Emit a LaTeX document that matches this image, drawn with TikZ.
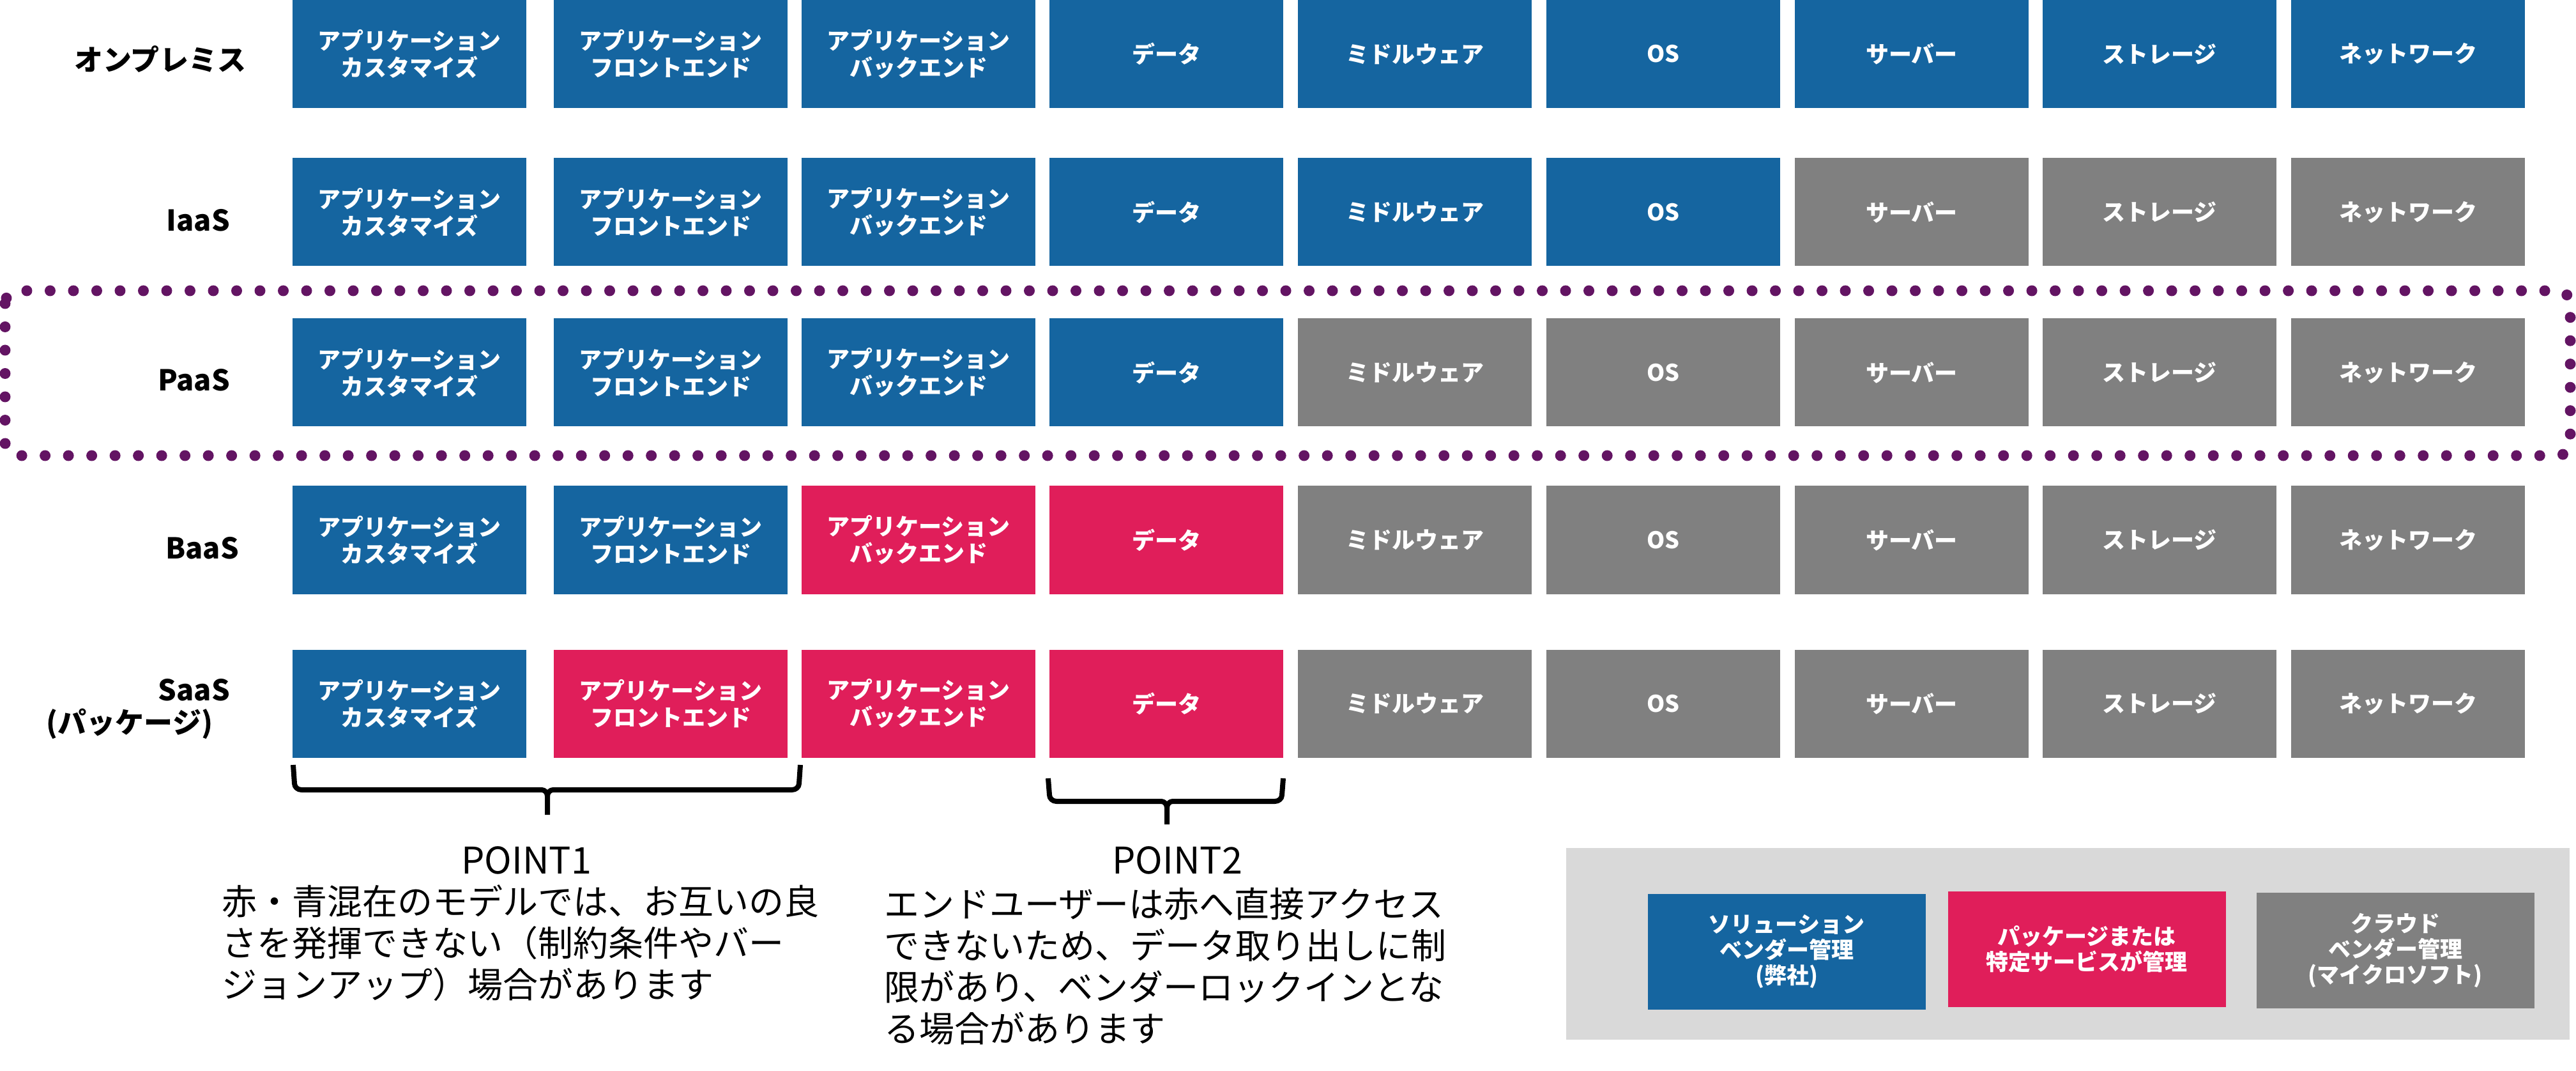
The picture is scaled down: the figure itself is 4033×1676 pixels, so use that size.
\documentclass[tikz,border=0pt]{standalone}
\usepackage{fontspec}
\setmainfont{Noto Sans CJK JP}
\definecolor{cblue}{HTML}{1565A0}
\definecolor{cpink}{HTML}{E01E5A}
\definecolor{cgray}{HTML}{808080}
\definecolor{clegbg}{HTML}{D9D9D9}
\definecolor{cpurple}{HTML}{631463}
\begin{document}
\begin{tikzpicture}[x=0.2pt,y=-0.2pt,
  cell/.style={minimum width=73.2pt,minimum height=33.8pt,inner sep=0pt,text=white,align=center,
    font=\fontsize{7.2}{8.4}\selectfont\bfseries},
  rowlabel/.style={anchor=east,inner sep=0pt,font=\fontsize{9}{11}\selectfont\bfseries},
  ptitle/.style={inner sep=0pt,font=\fontsize{11.5}{13}\selectfont},
  pbody/.style={inner sep=0pt,anchor=north west,align=left,font=\fontsize{11}{13}\selectfont},
  legbox/.style={minimum width=87pt,minimum height=36.2pt,inner sep=0pt,text=white,align=center,
    font=\fontsize{7}{8}\selectfont\bfseries},
  brk/.style={line width=1.6pt,line join=round}]
\useasboundingbox (0,0) rectangle (4033,1676);

% dotted frame around PaaS
\draw[cpurple,line width=3.4pt,line cap=round,dash pattern=on 0pt off 7.3pt,rounded corners=4pt]
  (8,455) rectangle (4024,713);

% grid of cells
\foreach \r/\y/\nb/\np in {1/84.5/9/9, 2/332/6/6, 3/583/4/4, 4/845/2/4, 5/1101/1/4}{
  \foreach \c/\x/\t in {1/641/{アプリケーション\\カスタマイズ},
                        2/1050/{アプリケーション\\フロントエンド},
                        3/1438/{アプリケーション\\バックエンド},
                        4/1826/{データ},
                        5/2215/{ミドルウェア},
                        6/2604/{OS},
                        7/2993/{サーバー},
                        8/3381/{ストレージ},
                        9/3770/{ネットワーク}}{
    \ifnum\c>\np\relax\def\col{cgray}\else\ifnum\c>\nb\relax\def\col{cpink}\else\def\col{cblue}\fi\fi
    \node[cell,fill=\col] (b\r\c) at (\x,\y) {\t};
  }
}

% row labels
\node[rowlabel] (l1) at (386,93) {オンプレミス};
\node[rowlabel] (l2) at (361,345) {IaaS};
\node[rowlabel] (l3) at (361,595) {PaaS};
\node[rowlabel] (l4) at (375,858) {BaaS};
\node[rowlabel] (l5) at (361,1080) {SaaS};
\node[rowlabel] (l6) at (334,1133) {(パッケージ)};

% brackets
\draw[brk] (459,1197) -- (461,1226) to[out=-90,in=180] (472,1236) -- (848,1236)
  to[out=0,in=90] (857,1246) -- (857,1275);
\draw[brk] (1253,1197) -- (1251,1226) to[out=-90,in=0] (1240,1236) -- (866,1236)
  to[out=180,in=90] (857,1246);
\draw[brk] (1641,1218) -- (1643,1244) to[out=-90,in=180] (1654,1254) -- (1818,1254)
  to[out=0,in=90] (1827,1264) -- (1827,1290);
\draw[brk] (2009,1218) -- (2007,1244) to[out=-90,in=0] (1996,1254) -- (1836,1254)
  to[out=180,in=90] (1827,1264);

% POINT texts
\node[ptitle] (p1t) at (824,1346) {POINT1};
\node[pbody] (p1b) at (346,1384) {赤・青混在のモデルでは、お互いの良\\さを発揮できない（制約条件やバー\\ジョンアップ）場合があります};
\node[ptitle] (p2t) at (1843,1346) {POINT2};
\node[pbody] (p2b) at (1383,1388) {エンドユーザーは赤へ直接アクセス\\できないため、データ取り出しに制\\限があり、ベンダーロックインとな\\る場合があります};

% legend
\node[fill=clegbg,minimum width=314.2pt,minimum height=60pt,inner sep=0pt] (leg) at (3237.5,1477) {};
\node[legbox,fill=cblue] (lg1) at (2797,1489) {ソリューション\\ベンダー管理\\(弊社)};
\node[legbox,fill=cpink] (lg2) at (3267,1485) {パッケージまたは\\特定サービスが管理};
\node[legbox,fill=cgray] (lg3) at (3750,1487) {クラウド\\ベンダー管理\\(マイクロソフト)};
\end{tikzpicture}
\end{document}
